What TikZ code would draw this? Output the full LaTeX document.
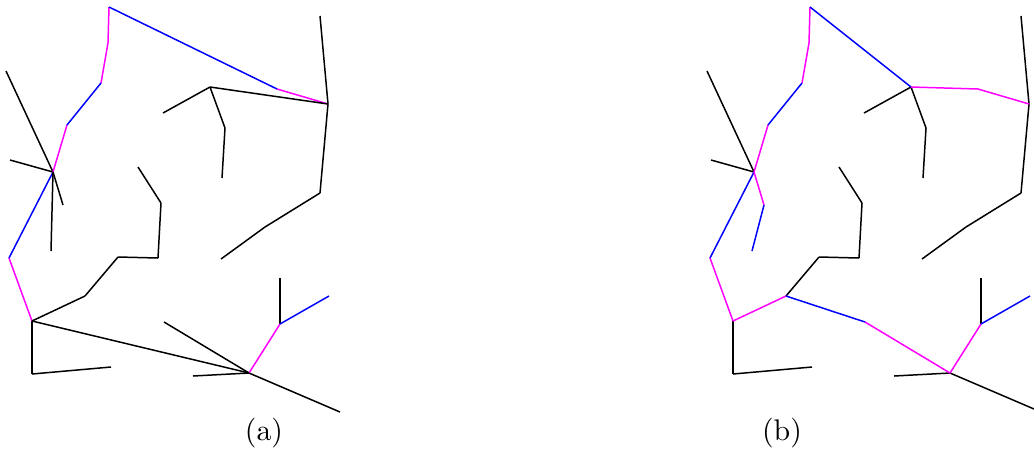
\documentclass[tikz,border=0pt]{standalone}
\usepackage{tikz}
\definecolor{pathmag}{RGB}{255,0,255}
\definecolor{pathblue}{RGB}{0,0,255}

\begin{document}
\begin{tikzpicture}[x=0.335pt,y=-0.335pt,
    tk/.style={line width=0.5pt,black},
    bl/.style={line width=0.5pt,pathblue},
    mg/.style={line width=0.5pt,pathmag},
    lbl/.style={font=\normalsize,inner sep=0pt}]
  \clip (0,0) rectangle (1034,452);
  % the same points in both panels
  \foreach \p/\dx in {a/0,b/701}{
    \begin{scope}[xshift=\dx*0.335pt]
      \coordinate (\p-r) at (109,7);   \coordinate (\p-m1) at (108,43);
      \coordinate (\p-m2) at (101,83); \coordinate (\p-m3) at (67,125);
      \coordinate (\p-c) at (53,172);  \coordinate (\p-l1) at (6,71);
      \coordinate (\p-l2) at (10,160); \coordinate (\p-l3) at (63,205);
      \coordinate (\p-l4) at (51,251); \coordinate (\p-w) at (9,258);
      \coordinate (\p-s) at (32,321);  \coordinate (\p-s1) at (32,374);
      \coordinate (\p-s2) at (111,367);\coordinate (\p-u1) at (85,296);
      \coordinate (\p-u2) at (118,257);\coordinate (\p-u3) at (158,258);
      \coordinate (\p-u4) at (161,203);\coordinate (\p-u5) at (138,167);
      \coordinate (\p-t) at (277,89);  \coordinate (\p-e) at (328,104);
      \coordinate (\p-e1) at (320,16); \coordinate (\p-e2) at (320,193);
      \coordinate (\p-e3) at (265,227);\coordinate (\p-e4) at (221,259);
      \coordinate (\p-k) at (210,87);  \coordinate (\p-k1) at (163,113);
      \coordinate (\p-k2) at (225,128);\coordinate (\p-k3) at (222,178);
      \coordinate (\p-h) at (249,373); \coordinate (\p-h1) at (164,322);
      \coordinate (\p-h2) at (193,376);\coordinate (\p-h3) at (340,412);
      \coordinate (\p-g) at (280,324); \coordinate (\p-g1) at (280,278);
      \coordinate (\p-g2) at (329,296);
    \end{scope}
    % edges common to both
    \foreach \u/\v in {e1/e,e/e2,e2/e3,e3/e4,k/k1,k/k2,k2/k3,l1/c,l2/c,
        u5/u4,u4/u3,u3/u2,u2/u1,s/s1,s1/s2,h/h2,h/h3,g/g1}
      \draw[tk] (\p-\u) -- (\p-\v);
    \foreach \u/\v in {r/m1,m1/m2,m3/c,w/s,t/e,h/g}
      \draw[mg] (\p-\u) -- (\p-\v);
    \foreach \u/\v in {m2/m3,c/w,g/g2}
      \draw[bl] (\p-\u) -- (\p-\v);
  }
  % (a)
  \foreach \u/\v in {e/k,c/l3,c/l4,u1/s,s/h,h/h1}
    \draw[tk] (a-\u) -- (a-\v);
  \draw[bl] (a-r) -- (a-t);
  % (b)
  \foreach \u/\v in {c/l3,s/u1,k/t,h1/h}
    \draw[mg] (b-\u) -- (b-\v);
  \foreach \u/\v in {l3/l4,r/k,u1/h1}
    \draw[bl] (b-\u) -- (b-\v);
  \node[lbl] (la) at (264,433) {(a)};
  \node[lbl] (lb) at (782,433) {(b)};
\end{tikzpicture}
\end{document}
